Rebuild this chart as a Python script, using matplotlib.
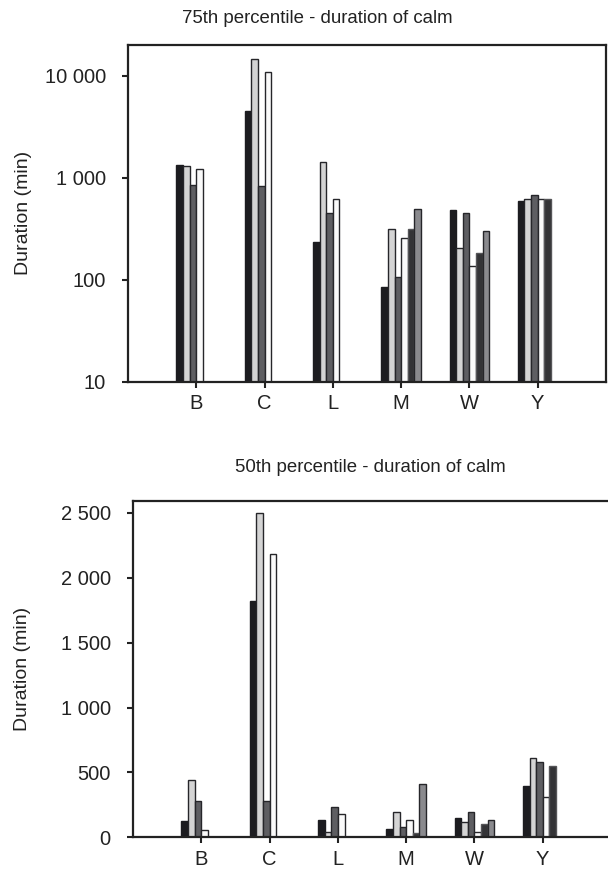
import numpy as np
import matplotlib.pyplot as plt
from matplotlib.ticker import FixedLocator, NullLocator

plt.rcParams["font.family"] = ["Liberation Sans", "DejaVu Sans"]

sites = ["B", "C", "L", "M", "W", "Y"]

# 75th percentile (min); nan = no bar
p75 = [
    [1330, 4500, 236, 84, 486, 591],
    [1315, 14500, 1416, 316, 205, 614],
    [842, 835, 454, 106, 454, 677],
    [1217, 10800, 614, 258, 136, 612],
    [np.nan, np.nan, np.nan, 316, 183, 612],
    [np.nan, np.nan, np.nan, 490, 302, np.nan],
]

# 50th percentile (min)
p50 = [
    [125, 1818, 133, 67, 148, 395],
    [444, 2495, 44, 197, 118, 610],
    [279, 279, 233, 79, 197, 579],
    [56, 2179, 182, 133, 44, 310],
    [np.nan, np.nan, np.nan, 36, 102, 552],
    [np.nan, np.nan, np.nan, 415, 133, np.nan],
]

p75_ticks = [10, 100, 1000, 10000]
p75_labels = ["10", "100", "1 000", "10 000"]
p50_ticks = [0, 500, 1000, 1500, 2000, 2500]
p50_labels = ["0", "500", "1 000", "1 500", "2 000", "2 500"]

fills = ["#1c1c20", "#d4d4d4", "#5e5e62", "#fafafa", "#333336", "#8a8a8e"]
edges = ["#1c1c20", "#26262a", "#26262a", "#26262a", "#555558", "#26262a"]

FS = 14.5
BAR_W = 0.097


def draw_bars(ax, series, label_x):
    x = np.arange(1, len(sites) + 1)
    n = len(series)
    for i, vals in enumerate(series):
        offs = (i - (n - 1) / 2) * BAR_W
        ax.bar(x + offs, vals, width=BAR_W, color=fills[i],
               edgecolor=edges[i], linewidth=1.0, zorder=2)
    ax.set_xlim(0, 7)
    ax.set_xticks(x)
    ax.set_xticklabels(sites, fontsize=FS, color="#222222")
    ax.tick_params(axis="both", direction="out", length=4, width=1.5,
                   color="#222222", labelcolor="#222222", labelsize=FS)
    ax.tick_params(axis="y", pad=12)
    ax.tick_params(axis="x", pad=5)
    for s in ax.spines.values():
        s.set_linewidth(1.6)
        s.set_color("#222222")
    ax.set_ylabel("Duration (min)", fontsize=14, color="#222222")
    ax.yaxis.set_label_coords(label_x, 0.5)


fig = plt.figure(figsize=(6.08, 8.73), dpi=100)

ax1 = fig.add_axes([0.2105, 0.5628, 0.7862, 0.3857])
draw_bars(ax1, p75, -0.201)
ax1.set_yscale("log")
ax1.set_ylim(10, 20000)
ax1.yaxis.set_major_locator(FixedLocator(p75_ticks))
ax1.yaxis.set_minor_locator(NullLocator())
ax1.set_yticklabels(p75_labels)
fig.text(0.522, 0.979, "75th percentile - duration of calm", ha="center",
         va="center", fontsize=13.4, color="#222222")

ax2 = fig.add_axes([0.2188, 0.0407, 0.7862, 0.3855])
draw_bars(ax2, p50, -0.214)
ax2.set_ylim(0, 2590)
ax2.set_yticks(p50_ticks)
ax2.set_yticklabels(p50_labels)
ax2.spines["right"].set_visible(False)
fig.text(0.609, 0.464, "50th percentile - duration of calm", ha="center",
         va="center", fontsize=13.4, color="#222222")

fig.savefig("out.png", dpi=100)
